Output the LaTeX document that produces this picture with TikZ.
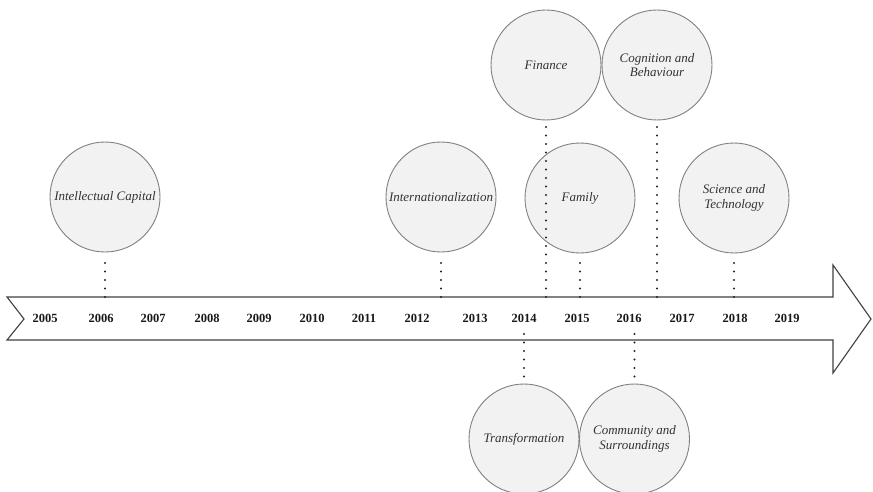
\documentclass[tikz,border=0pt]{standalone}
\usepackage{fontspec}
\setmainfont{Liberation Serif}
\begin{document}
\begin{tikzpicture}[x=1pt,y=-1pt,
  topic/.style={circle,draw=black!50,fill=black!5,line width=0.9pt,minimum size=110pt,inner sep=0pt,
    font=\itshape\fontsize{13}{14.5}\selectfont,text=black!80,align=center},
  year/.style={font=\bfseries\fontsize{12.5}{14}\selectfont,text=black!90},
  dotline/.style={line width=2.2pt,line cap=round,dash pattern=on 0pt off 8.5pt,draw=black!85},
  arrowbody/.style={draw=black!75,line width=1.1pt,fill=white,line join=miter}]
\useasboundingbox (0,0) rectangle (873,492);
% arrow
\draw[arrowbody] (7,297) -- (833,297) -- (833,265) -- (871,319) -- (833,373) -- (833,340) -- (7,340) -- (24,319) -- cycle;
% years
\foreach \y/\x in {2005/45,2006/101,2007/153,2008/207,2009/259,2010/312,2011/364,2012/417,2013/475,2014/524,2015/577,2016/629,2017/682,2018/735,2019/787}
  \node[year] (y\y) at (\x,318) {\y};
% circles
\node[topic] (ic) at (105,197) {Intellectual Capital};
\node[topic] (int) at (441,197) {Internationalization};
\node[topic] (fin) at (546,65) {Finance};
\node[topic] (cog) at (657,65) {Cognition and\\Behaviour};
\node[topic] (fam) at (580,198) {Family};
\node[topic] (sci) at (734,198) {Science and\\Technology};
\node[topic] (tra) at (524,439) {Transformation};
\node[topic] (com) at (634.5,439) {Community and\\Surroundings};
% anchor points on arrow
\coordinate (aic) at (105,297);
\coordinate (aint) at (441,297);
\coordinate (afin) at (546,297);
\coordinate (acog) at (657,297);
\coordinate (afam) at (580,297);
\coordinate (asci) at (734,297);
\coordinate (atra) at (524,340);
\coordinate (acom) at (634.5,340);
% dotted connectors
\draw[dotline] (aic) -- ([yshift=-8pt]ic.south);
\draw[dotline] (aint) -- ([yshift=-8pt]int.south);
\draw[dotline] (afin) -- ([yshift=-6pt]fin.south);
\draw[dotline] (acog) -- ([yshift=-6pt]cog.south);
\draw[dotline] (afam) -- ([yshift=-6pt]fam.south);
\draw[dotline] (asci) -- ([yshift=-6pt]sci.south);
\draw[dotline] ([yshift=6pt]atra) -- (tra.north);
\draw[dotline] ([yshift=6pt]acom) -- (com.north);
\end{tikzpicture}
\end{document}
